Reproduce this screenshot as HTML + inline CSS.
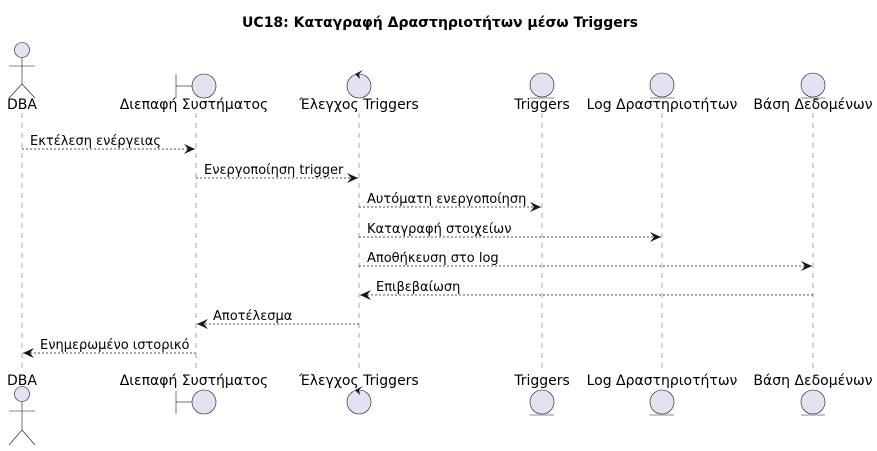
<!DOCTYPE html>
<html><head><meta charset="utf-8"><style>
html,body{margin:0;padding:0;background:#fff;}
svg{display:block;}
text{font-family:"DejaVu Sans","Liberation Sans",sans-serif;font-size:13px;fill:#000;}
.p{font-size:14px;}
</style></head><body>
<svg width="877" height="451" viewBox="0 0 877 451" xmlns="http://www.w3.org/2000/svg">
<defs>
<marker id="a" markerWidth="12" markerHeight="10" refX="11" refY="5" orient="auto" markerUnits="userSpaceOnUse">
<path d="M0,0 L11,5 L0,10 L4,5 Z" fill="#181818"/>
</marker>
</defs>
<text x="440" y="27" text-anchor="middle" style="font-weight:bold;font-size:14px">UC18: Καταγραφή Δραστηριοτήτων μέσω Triggers</text>
<g stroke="#555" stroke-width="0.5" stroke-dasharray="5,5" fill="none">
<line x1="22" y1="113" x2="22" y2="370"/>
<line x1="196" y1="113" x2="196" y2="370"/>
<line x1="359" y1="113" x2="359" y2="370"/>
<line x1="542" y1="113" x2="542" y2="370"/>
<line x1="662" y1="113" x2="662" y2="370"/>
<line x1="813" y1="113" x2="813" y2="370"/>
</g>
<g fill="#E2E2F0" stroke="#181818" stroke-width="0.6">
<circle cx="22" cy="50" r="7.5"/>
<line x1="22" y1="57.5" x2="22" y2="84"/><line x1="9" y1="66" x2="35" y2="66"/>
<polyline points="9,98 22,84 35,98" fill="none"/>
<circle cx="22" cy="394" r="7.5"/>
<line x1="22" y1="401.5" x2="22" y2="430"/><line x1="9" y1="411" x2="35" y2="411"/>
<polyline points="9,445 22,430 35,445" fill="none"/>
<line x1="176" y1="74" x2="176" y2="98"/><line x1="176" y1="86" x2="192" y2="86"/>
<circle cx="204" cy="86" r="12"/>
<line x1="176" y1="391" x2="176" y2="414"/><line x1="176" y1="402" x2="192" y2="402"/>
<circle cx="204" cy="402" r="12"/>
<circle cx="359" cy="86" r="12"/>
<circle cx="359" cy="402" r="12"/>
<circle cx="542" cy="85" r="12"/><line x1="530" y1="98" x2="554" y2="98"/>
<circle cx="662" cy="85" r="12"/><line x1="650" y1="98" x2="674" y2="98"/>
<circle cx="813" cy="85" r="12"/><line x1="801" y1="98" x2="825" y2="98"/>
<circle cx="542" cy="402" r="12"/><line x1="530" y1="415" x2="554" y2="415"/>
<circle cx="662" cy="402" r="12"/><line x1="650" y1="415" x2="674" y2="415"/>
<circle cx="813" cy="402" r="12"/><line x1="801" y1="415" x2="825" y2="415"/>
</g>
<path d="M363,70 L355,74 L360,79 L359,74 Z" fill="#181818"/>
<path d="M363,386 L355,390 L360,395 L359,390 Z" fill="#181818"/>
<g text-anchor="middle" class="p">
<text class="p" x="22" y="109">DBA</text><text class="p" x="194" y="109">Διεπαφή Συστήματος</text>
<text class="p" x="359" y="109">Έλεγχος Triggers</text><text class="p" x="542" y="109">Triggers</text>
<text class="p" x="662" y="109">Log Δραστηριοτήτων</text><text class="p" x="813" y="109">Βάση Δεδομένων</text>
<text class="p" x="22" y="385">DBA</text><text class="p" x="194" y="385">Διεπαφή Συστήματος</text>
<text class="p" x="359" y="385">Έλεγχος Triggers</text><text class="p" x="542" y="385">Triggers</text>
<text class="p" x="662" y="385">Log Δραστηριοτήτων</text><text class="p" x="813" y="385">Βάση Δεδομένων</text>
</g>
<g stroke="#181818" stroke-width="0.8" stroke-dasharray="2,2" fill="none" marker-end="url(#a)">
<line x1="22" y1="149" x2="195" y2="149"/>
<line x1="196" y1="178" x2="358" y2="178"/>
<line x1="359" y1="207" x2="541" y2="207"/>
<line x1="359" y1="237" x2="661" y2="237"/>
<line x1="359" y1="266" x2="812" y2="266"/>
<line x1="813" y1="295" x2="360" y2="295"/>
<line x1="359" y1="324" x2="197" y2="324"/>
<line x1="196" y1="353" x2="23" y2="353"/>
</g>
<text x="30" y="145">Εκτέλεση ενέργειας</text>
<text x="204" y="174">Ενεργοποίηση trigger</text>
<text x="367" y="203">Αυτόματη ενεργοποίηση</text>
<text x="367" y="233">Καταγραφή στοιχείων</text>
<text x="367" y="262">Αποθήκευση στο log</text>
<text x="376" y="291">Επιβεβαίωση</text>
<text x="213" y="320">Αποτέλεσμα</text>
<text x="40" y="349">Ενημερωμένο ιστορικό</text>
</svg>
</body></html>
